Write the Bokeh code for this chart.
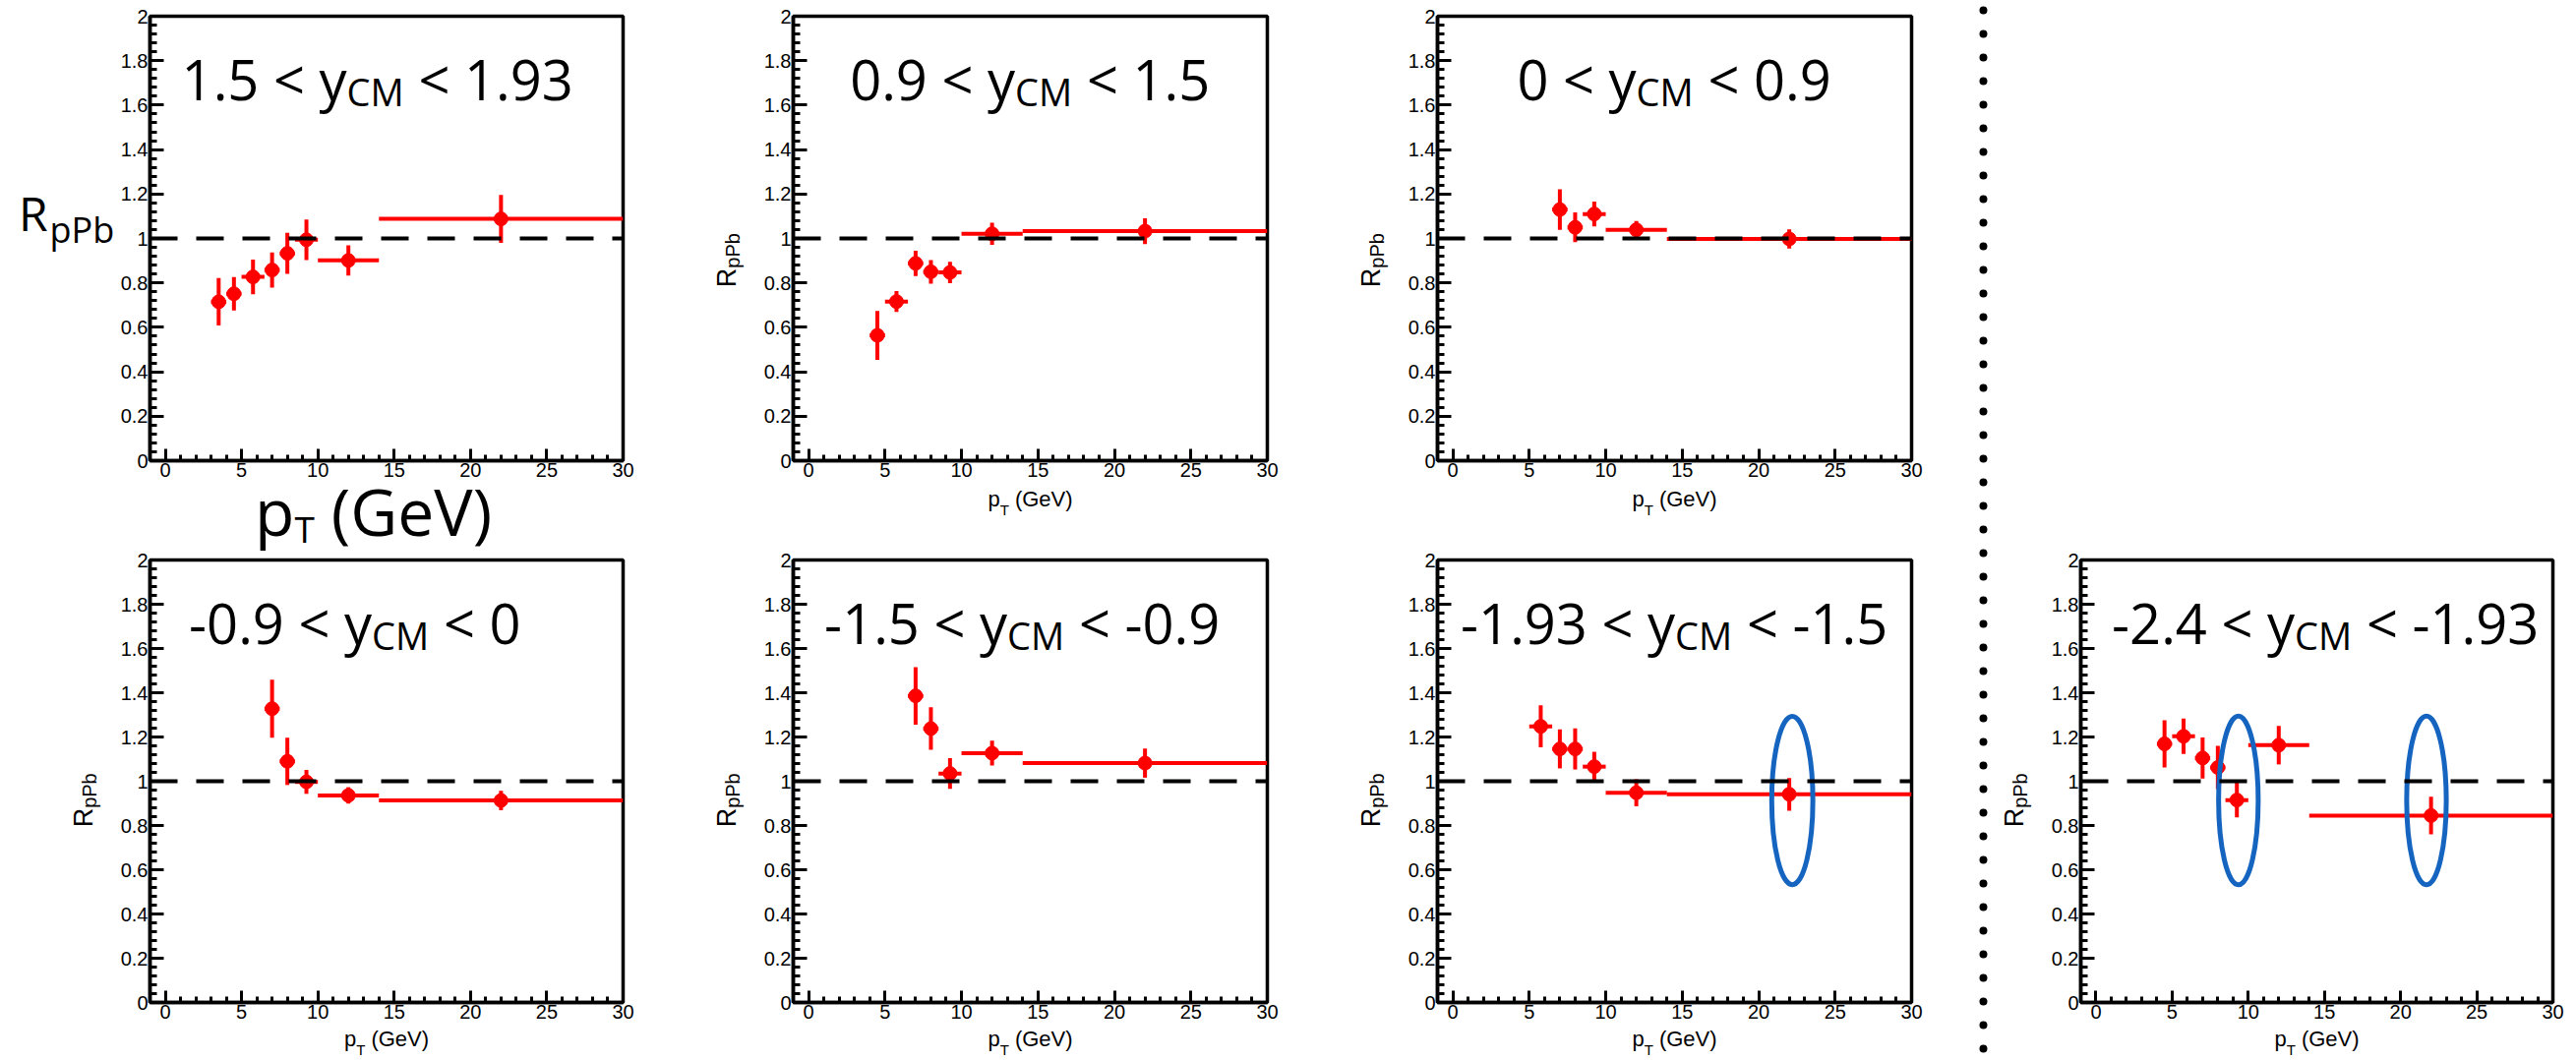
import math
from bokeh.plotting import figure
from bokeh.models import (Range1d, FixedTicker, CustomJSTickFormatter, Span, Label,
                          ColumnDataSource, Spacer)
from bokeh.layouts import row, column
from bokeh.embed import file_html
from bokeh.resources import INLINE

# ---------------- data ----------------
y_lo = ["1.5", "0.9", "0", "-0.9", "-1.5", "-1.93", "-2.4"]
y_hi = ["1.93", "1.5", "0.9", "0", "-0.9", "-1.5", "-1.93"]

pt_1 = [3.5, 4.5, 5.75, 7.0, 8.0, 9.25, 12.0, 22.0]
lo_1 = [3.0, 4.0, 5.0, 6.5, 7.5, 8.5, 10.0, 14.0]
hi_1 = [4.0, 5.0, 6.5, 7.5, 8.5, 10.0, 14.0, 30.0]
r_1 = [0.715, 0.751, 0.827, 0.858, 0.933, 0.994, 0.901, 1.088]
e_1 = [0.107, 0.075, 0.078, 0.079, 0.092, 0.091, 0.068, 0.108]

pt_2 = [4.5, 5.75, 7.0, 8.0, 9.25, 12.0, 22.0]
lo_2 = [4.0, 5.0, 6.5, 7.5, 8.5, 10.0, 14.0]
hi_2 = [5.0, 6.5, 7.5, 8.5, 10.0, 14.0, 30.0]
r_2 = [0.564, 0.716, 0.888, 0.850, 0.847, 1.021, 1.033]
e_2 = [0.110, 0.047, 0.057, 0.053, 0.048, 0.050, 0.058]

pt_3 = [7.0, 8.0, 9.25, 12.0, 22.0]
lo_3 = [6.5, 7.5, 8.5, 10.0, 14.0]
hi_3 = [7.5, 8.5, 10.0, 14.0, 30.0]
r_3 = [1.130, 1.050, 1.110, 1.039, 0.998]
e_3 = [0.091, 0.067, 0.056, 0.040, 0.043]

pt_4 = [7.0, 8.0, 9.25, 12.0, 22.0]
lo_4 = [6.5, 7.5, 8.5, 10.0, 14.0]
hi_4 = [7.5, 8.5, 10.0, 14.0, 30.0]
r_4 = [1.328, 1.090, 0.997, 0.936, 0.913]
e_4 = [0.131, 0.107, 0.054, 0.037, 0.044]

pt_5 = [7.0, 8.0, 9.25, 12.0, 22.0]
lo_5 = [6.5, 7.5, 8.5, 10.0, 14.0]
hi_5 = [7.5, 8.5, 10.0, 14.0, 30.0]
r_5 = [1.386, 1.238, 1.035, 1.127, 1.082]
e_5 = [0.130, 0.096, 0.069, 0.056, 0.066]

pt_6 = [5.75, 7.0, 8.0, 9.25, 12.0, 22.0]
lo_6 = [5.0, 6.5, 7.5, 8.5, 10.0, 14.0]
hi_6 = [6.5, 7.5, 8.5, 10.0, 14.0, 30.0]
r_6 = [1.248, 1.146, 1.146, 1.066, 0.948, 0.941]
e_6 = [0.095, 0.088, 0.093, 0.067, 0.061, 0.074]

pt_7 = [4.5, 5.75, 7.0, 8.0, 9.25, 12.0, 22.0]
lo_7 = [4.0, 5.0, 6.5, 7.5, 8.5, 10.0, 14.0]
hi_7 = [5.0, 6.5, 7.5, 8.5, 10.0, 14.0, 30.0]
r_7 = [1.169, 1.203, 1.105, 1.062, 0.915, 1.163, 0.845]
e_7 = [0.107, 0.080, 0.093, 0.098, 0.078, 0.087, 0.085]

# highlighted points (blue ellipses): centre x, centre y, full width, full height
ell_6_x = [22.2]
ell_6_y = [0.913]
ell_6_w = [2.69]
ell_6_h = [0.762]
ell_7_x = [9.35, 21.7]
ell_7_y = [0.913, 0.913]
ell_7_w = [2.6, 2.6]
ell_7_h = [0.762, 0.762]

x_ticks = [0, 5, 10, 15, 20, 25, 30]
x_minor = list(range(0, 31))
y_ticks = [0, 0.2, 0.4, 0.6, 0.8, 1.0, 1.2, 1.4, 1.6, 1.8, 2.0]
y_minor = [round(i * 0.04, 2) for i in range(51)]

# ---------------- font metrics (em) ----------------
OS = {' ': 0.26, '-': 0.322, '.': 0.266, '<': 0.572, 'y': 0.489, 'C': 0.631, 'M': 0.903,
      'T': 0.544, 'p': 0.613, 'P': 0.619, 'b': 0.613, 'R': 0.63, '(': 0.296, ')': 0.296,
      'G': 0.738, 'e': 0.561, 'V': 0.579}
for d in "0123456789":
    OS[d] = 0.572
LS = {' ': 0.278, 'p': 0.556, 'T': 0.611, '(': 0.333, ')': 0.333, 'G': 0.778,
      'e': 0.556, 'V': 0.667, 'R': 0.722, 'P': 0.667, 'b': 0.556}


def tw(s, table, size):
    return sum(table.get(c, 0.55) for c in s) * size


RED = "#ff0000"
BLUE = "#1565c0"
TF = "Liberation Sans"
BF = "Open Sans"
X0, X1, Y0, Y1 = -1.0, 30.0, 0.0, 2.0
BASE_FIX = 0.4   # empirical shift (em) of the rendered baseline
ROT_DX = -14     # empirical correction for rotated labels (px)
ROT_DY = 38
IB = 36          # inner left border (y tick labels)
XB = 26          # inner bottom border (x tick labels)


def add_text(fig, x, y, text, font, size, align="left", angle=0.0):
    if angle == 0.0:
        y = y + BASE_FIX * size
    else:
        x = x + ROT_DX
        y = y - ROT_DY
    fig.add_layout(Label(x=x, y=y, text=text, text_font=font, text_font_size=f"{size}px",
                         text_align=align, text_baseline="alphabetic", angle=angle,
                         text_color="black"))


def text_fig(w, h):
    f = figure(width=w, height=h, x_range=Range1d(0, w), y_range=Range1d(0, h),
               x_axis_location=None, y_axis_location=None,
               output_backend="svg", toolbar_location=None, min_border=0,
               background_fill_color="white", border_fill_color="white")
    f.grid.visible = False
    f.outline_line_color = None
    return f


def make_cell(i, pt, lo, hi, r, e, fw, fh, bl, br, bt, bb, xlab_base, title_dx,
              big=False, ell=None):
    p = figure(frame_width=fw, frame_height=fh, x_range=Range1d(X0, X1), y_range=Range1d(Y0, Y1),
               output_backend="svg", toolbar_location=None,
               min_border_left=IB, min_border_right=br, min_border_top=bt, min_border_bottom=XB,
               background_fill_color="white", border_fill_color="white")
    p.xgrid.visible = False
    p.ygrid.visible = False
    p.outline_line_color = "black"
    p.outline_line_width = 3.5
    p.outline_line_alpha = 1.0

    ppx = fw / (X1 - X0)
    ppy = fh / (Y1 - Y0)

    for ax in (p.xaxis[0], p.yaxis[0]):
        ax.axis_line_color = "black"
        ax.axis_line_width = 3.5
        ax.major_tick_line_color = "black"
        ax.minor_tick_line_color = "black"
        ax.major_tick_line_width = 3
        ax.minor_tick_line_width = 3
        ax.major_tick_out = 0
        ax.minor_tick_out = 0
        ax.major_label_text_font = TF
        ax.major_label_text_font_size = "20px"
        ax.major_label_text_color = "black"
        ax.axis_label = None
    p.xaxis.ticker = FixedTicker(ticks=x_ticks, minor_ticks=x_minor)
    p.yaxis.ticker = FixedTicker(ticks=y_ticks, minor_ticks=y_minor)
    p.yaxis.formatter = CustomJSTickFormatter(code="return (Math.round(tick*10)/10).toString();")
    p.xaxis.major_tick_in = 12
    p.xaxis.minor_tick_in = 6
    p.yaxis.major_tick_in = 14
    p.yaxis.minor_tick_in = 7
    p.xaxis.major_label_standoff = 2
    p.yaxis.major_label_standoff = 2

    src = ColumnDataSource(dict(x=pt, lo=lo, hi=hi, r=r,
                                rlo=[a - b for a, b in zip(r, e)],
                                rhi=[a + b for a, b in zip(r, e)]))
    p.segment(x0="x", y0="rlo", x1="x", y1="rhi", source=src, line_color=RED, line_width=4)
    p.segment(x0="lo", y0="r", x1="hi", y1="r", source=src, line_color=RED, line_width=4)
    p.scatter(x="x", y="r", source=src, marker="circle", size=14, color=RED)

    if ell is not None:
        ex, ey, ew, eh = ell
        p.ellipse(x=ex, y=ey, width=ew, height=eh, fill_alpha=0, line_color=BLUE, line_width=5)

    p.add_layout(Span(location=1.0, dimension="width", line_color="black", line_width=4,
                      line_dash="28 19"))

    # title inside the frame: lo < y_CM < hi   (x from frame left, y from frame top, px)
    TS, SS = 56, 38
    part1 = f"{y_lo[i]} < y"
    part3 = f"< {y_hi[i]}"
    w1 = tw(part1, OS, TS)
    ws = tw("CM", OS, SS)
    wsp = OS[' '] * TS
    w3 = tw(part3, OS, TS)
    start = fw / 2 - (w1 + ws + wsp + w3) / 2 + title_dx
    base = 86
    for txt, xx, yy, sz, al in ((part1, start + w1, base, TS, "right"),
                                ("CM", start + w1, base + 6, SS, "left"),
                                (part3, start + w1 + ws + wsp, base, TS, "left")):
        p.add_layout(Label(x=X0 + xx / ppx, y=Y1 - (yy - BASE_FIX * sz) / ppy, text=txt,
                           text_font=BF, text_font_size=f"{sz}px", text_align=al,
                           text_baseline="alphabetic", text_color="black"))

    # side text canvases (left of the panel and below it)
    yl_w, yl_h = bl - IB, bt + fh + XB
    xl_w, xl_h = bl + fw + br, bb - XB
    yl = text_fig(yl_w, yl_h)
    xl = text_fig(xl_w, xl_h)

    def ytext(xpx, ypx, text, font, size, align="left", angle=0.0):
        # xpx: px right of the frame's left edge; ypx: px below the frame's top edge
        add_text(yl, bl - IB + xpx, yl_h - bt - ypx, text, font, size, align, angle)

    def xtext(xpx, ypx, text, font, size, align="left"):
        add_text(xl, bl + xpx, xl_h - (ypx - fh - XB), text, font, size, align)

    if big:
        ytext(-104 + IB, 222, "R", BF, 48, "right")
        ytext(-102 + IB, 236, "pPb", BF, 36, "left")
        a = 147
        BS, BSS = 66, 37
        xtext(a, fh + 77, "p", BF, BS, "right")
        xtext(a, fh + 84, "T", BF, BSS, "left")
        xtext(a + tw("T", OS, BSS) + OS[' '] * BS, fh + 77, "(GeV)", BF, BS, "left")
    else:
        ytext(-54 + IB, fh / 2, "R", TF, 27, "right", math.pi / 2)
        ytext(-48 + IB, fh / 2, "pPb", TF, 20, "left", math.pi / 2)
        MS, SB = 22, 15
        wp = tw("p", LS, MS)
        wt = tw("T", LS, SB)
        wsp2 = LS[' '] * MS
        wg = tw("(GeV)", LS, MS)
        st = fw / 2 - (wp + wt + wsp2 + wg) / 2
        xtext(st + wp, fh + xlab_base, "p", TF, MS, "right")
        xtext(st + wp, fh + xlab_base + 8, "T", TF, SB, "left")
        xtext(st + wp + wt + wsp2, fh + xlab_base, "(GeV)", TF, MS, "left")
    return column(row(yl, p), xl)


c1 = make_cell(0, pt_1, lo_1, hi_1, r_1, e_1, 481, 452, 152, 46, 16, 92, 48, -9, big=True)
c2 = make_cell(1, pt_2, lo_2, hi_2, r_2, e_2, 482, 452, 127, 46, 16, 92, 48, 0)
c3 = make_cell(2, pt_3, lo_3, hi_3, r_3, e_3, 482, 452, 127, 47, 16, 92, 48, 0)
c4 = make_cell(3, pt_4, lo_4, hi_4, r_4, e_4, 481, 450, 152, 46, 9, 59, 46, -32)
c5 = make_cell(4, pt_5, lo_5, hi_5, r_5, e_5, 482, 450, 127, 46, 9, 59, 46, -8)
c6 = make_cell(5, pt_6, lo_6, hi_6, r_6, e_6, 482, 450, 127, 47, 9, 59, 46, 0,
               ell=(ell_6_x, ell_6_y, ell_6_w, ell_6_h))
c7 = make_cell(6, pt_7, lo_7, hi_7, r_7, e_7, 480, 450, 85, 24, 9, 59, 46, 9,
               ell=(ell_7_x, ell_7_y, ell_7_w, ell_7_h))

# dotted vertical separator
sep = figure(width=40, height=1078, x_range=Range1d(0, 1), y_range=Range1d(0, 1078),
             x_axis_location=None, y_axis_location=None,
             output_backend="svg", toolbar_location=None, min_border=0,
             background_fill_color="white", border_fill_color="white")
sep.grid.visible = False
sep.outline_line_color = None
sep.line(x=[0.65, 0.65], y=[1068, 0], line_color="black", line_width=8,
         line_dash="0 24", line_cap="round")

layout = row(column(row(c1, c2, c3), row(c4, c5, c6)), sep,
             column(Spacer(width=589, height=560), c7))

open("out.html", "w").write(file_html(layout, INLINE))
